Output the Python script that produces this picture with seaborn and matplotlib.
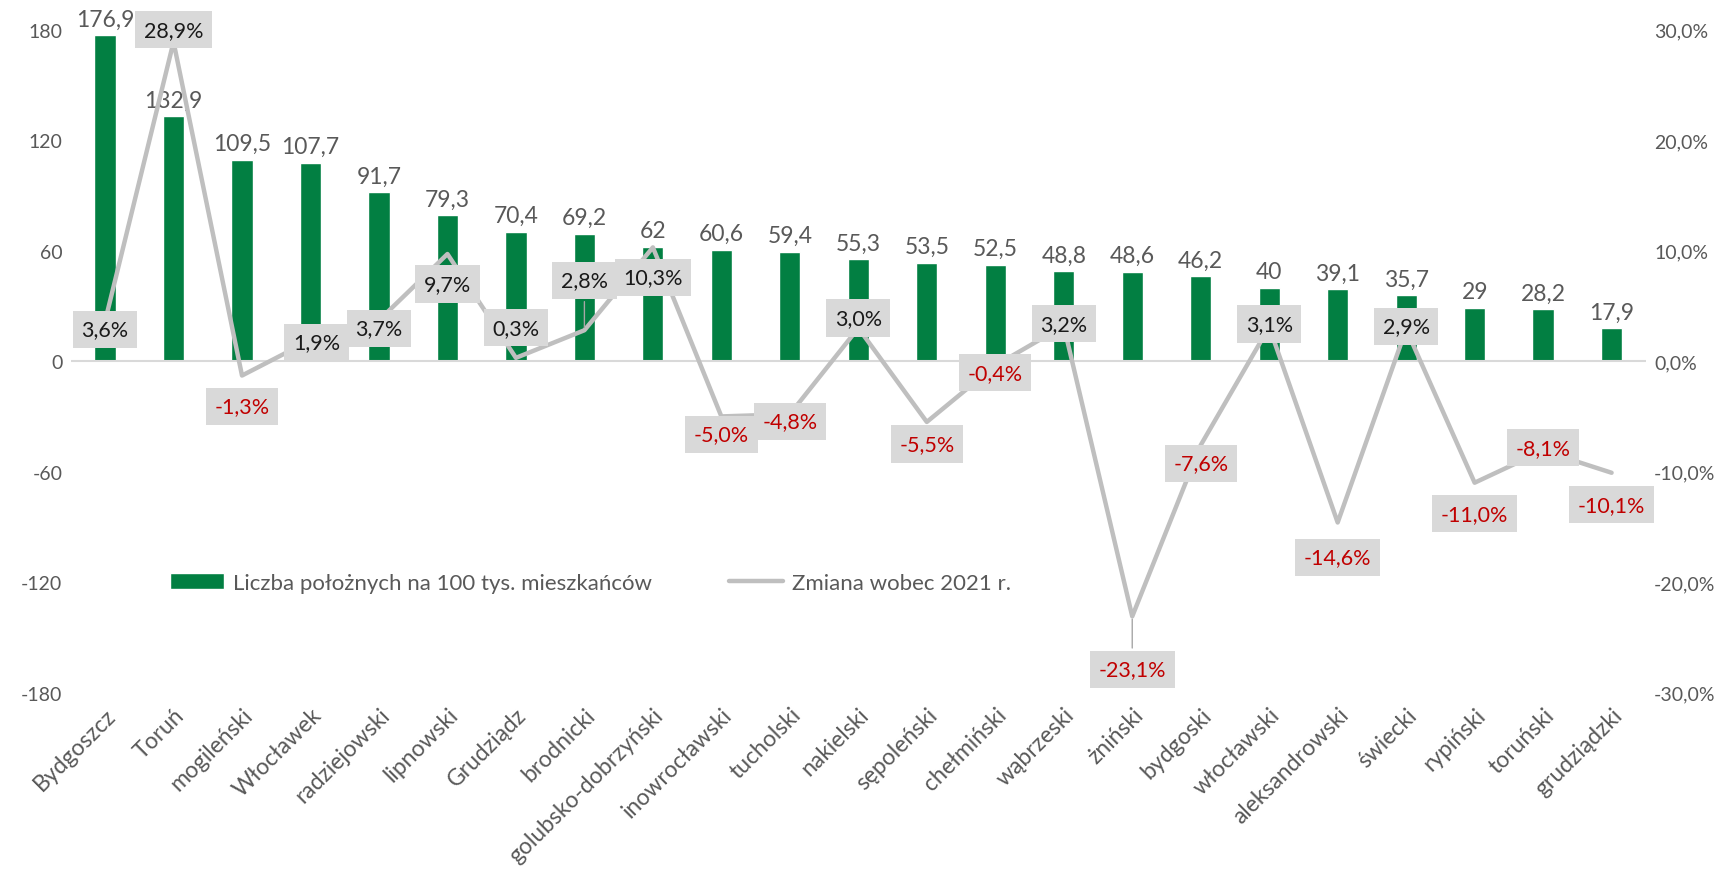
"""
Położne na 100 tys. mieszkańców wg powiatów (woj. kujawsko-pomorskie)
Bars on the left axis, change vs 2021 as a line on the right axis
"""
import matplotlib.pyplot as plt
import seaborn as sns
import numpy as np
import pandas as pd
from matplotlib.ticker import FuncFormatter

# data
regions = ['Bydgoszcz', 'Toruń', 'mogileński', 'Włocławek', 'radziejowski', 'lipnowski',
           'Grudziądz', 'brodnicki', 'golubsko-dobrzyński', 'inowrocławski', 'tucholski',
           'nakielski', 'sępoleński', 'chełmiński', 'wąbrzeski', 'żniński', 'bydgoski',
           'włocławski', 'aleksandrowski', 'świecki', 'rypiński', 'toruński', 'grudziądzki']
midwives = [176.9, 132.9, 109.5, 107.7, 91.7, 79.3, 70.4, 69.2, 62, 60.6, 59.4, 55.3,
            53.5, 52.5, 48.8, 48.6, 46.2, 40, 39.1, 35.7, 29, 28.2, 17.9]
change = [3.6, 28.9, -1.3, 1.9, 3.7, 9.7, 0.3, 2.8, 10.3, -5.0, -4.8, 3.0, -5.5, -0.4,
          3.2, -23.1, -7.6, 3.1, -14.6, 2.9, -11.0, -8.1, -10.1]

bar_name = 'Liczba położnych na 100 tys. mieszkańców'
line_name = 'Zmiana wobec 2021 r.'

# label placement (offset of the % box from its point, in pixels)
label_dx = [0, 0, 0, 6, 0, 0, 0, 0, 0, 0, 0, 0, 0, 0, 0, 0, 0, 0, 0, 0, 0, 0, 0]
label_dy = [-8, 12, -31, -2, -8, -30, 30, 50, -30, -18, -7, 10, -22, -7, 2, -53, -18,
            3, -35, 3, -31, 3, -32]
leader = [False] * 7 + [True] + [False] * 7 + [True] + [False] * 7

GREEN = '#027F42'
GREY_LINE = '#BFBFBF'
TXT = '#595959'

sns.set_theme(style='white')
plt.rcParams['font.family'] = ['Lato', 'DejaVu Sans']
plt.rcParams['axes.unicode_minus'] = False

df = pd.DataFrame({'region': regions, 'value': midwives, 'change': change})

fig = plt.figure(figsize=(17.27, 8.78), dpi=100)
ax = fig.add_axes([0.041, 0.21, 0.912, 0.755])

sns.barplot(data=df, x='region', y='value', color=GREEN, width=0.31, saturation=1,
            ax=ax, label=bar_name)
ax.set_xlim(-0.5, len(regions) - 0.5)
ax.set_ylim(-180, 180)
ax.set_yticks(np.arange(-180, 181, 60))
ax.set_xlabel('')
ax.set_ylabel('')
ax.axhline(0, color='#D9D9D9', lw=1.5, zorder=1)
for s in ax.spines.values():
    s.set_visible(False)
ax.tick_params(axis='y', colors=TXT, labelsize=14, length=0, pad=6)
ax.tick_params(axis='x', colors=TXT, labelsize=16.5, length=0, pad=8)
plt.setp(ax.get_xticklabels(), rotation=45, ha='right', rotation_mode='anchor')

for i, v in enumerate(midwives):
    ax.annotate(f'{v:g}'.replace('.', ','), (i, v), xytext=(0, 4), textcoords='offset points',
                ha='center', va='bottom', fontsize=16.5, color=TXT)

# secondary axis
ax2 = ax.twinx()
sns.lineplot(x=np.arange(len(regions)), y=change, ax=ax2, color=GREY_LINE, lw=3.2,
             sort=False, label=line_name, legend=False)
ax2.set_ylim(-30, 30)
ax2.set_yticks(np.arange(-30, 31, 10))
ax2.yaxis.set_major_formatter(FuncFormatter(lambda v, p: f'{v:.1f}%'.replace('.', ',')))
ax2.tick_params(axis='y', colors=TXT, labelsize=14, length=0, pad=6)
for s in ax2.spines.values():
    s.set_visible(False)
ax2.grid(False)

for i, c in enumerate(change):
    txt = f'{c:.1f}%'.replace('.', ',')
    col = '#C00000' if c < 0 else '#1A1A1A'
    arrow = dict(arrowstyle='-', color='#A6A6A6', lw=1) if leader[i] else None
    ax2.annotate(txt, (i, c), xytext=(label_dx[i] * 0.72, label_dy[i] * 0.72),
                 textcoords='offset points', ha='center', va='center', fontsize=15.5,
                 color=col, arrowprops=arrow,
                 bbox=dict(boxstyle='square,pad=0.4', fc='#D9D9D9', ec='none'))

h1, l1 = ax.get_legend_handles_labels()
h2, l2 = ax2.get_legend_handles_labels()
ax.legend(h1 + h2, l1 + l2, ncol=2, frameon=False, loc='center', bbox_to_anchor=(0.33, 0.166),
          fontsize=16, labelcolor=TXT, handlelength=2.4, handletextpad=0.4, columnspacing=3.5)

plt.savefig('out.png', dpi=100)
plt.close()
